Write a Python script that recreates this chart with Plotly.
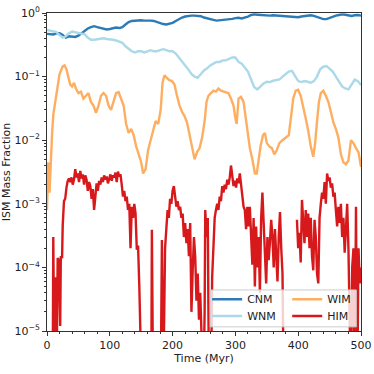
import plotly.graph_objects as go

# time grid (Myr) for the smoother phases
t5 = list(range(0, 501, 5))

cnm = [0.47, 0.47, 0.46, 0.48, 0.48, 0.45, 0.41, 0.43, 0.42, 0.42,
       0.44, 0.48, 0.53, 0.57, 0.60, 0.62, 0.60, 0.58, 0.57, 0.55,
       0.56, 0.57, 0.59, 0.58, 0.60, 0.66, 0.72, 0.75, 0.76, 0.77,
       0.77, 0.76, 0.77, 0.76, 0.75, 0.72, 0.69, 0.67, 0.66, 0.68,
       0.70, 0.75, 0.80, 0.85, 0.88, 0.90, 0.91, 0.91, 0.90, 0.89,
       0.85, 0.82, 0.79, 0.78, 0.76, 0.77, 0.76, 0.78, 0.80, 0.81,
       0.83, 0.84, 0.82, 0.84, 0.88, 0.93, 0.95, 0.94, 0.93, 0.92,
       0.92, 0.91, 0.92, 0.91, 0.90, 0.90, 0.89, 0.87, 0.86, 0.85,
       0.86, 0.88, 0.90, 0.92, 0.92, 0.90, 0.87, 0.83, 0.80, 0.80,
       0.84, 0.88, 0.91, 0.93, 0.95, 0.94, 0.92, 0.90, 0.92, 0.93,
       0.91]

wnm = [0.54, 0.53, 0.51, 0.50, 0.45, 0.41, 0.43, 0.48, 0.51, 0.50,
       0.49, 0.48, 0.46, 0.41, 0.38, 0.38, 0.39, 0.39, 0.40, 0.39,
       0.39, 0.38, 0.37, 0.35, 0.34, 0.30, 0.27, 0.25, 0.24, 0.25,
       0.25, 0.24, 0.25, 0.26, 0.25, 0.25, 0.26, 0.27, 0.26, 0.25,
       0.25, 0.23, 0.20, 0.17, 0.15, 0.13, 0.11, 0.10, 0.096, 0.11,
       0.125, 0.135, 0.15, 0.16, 0.17, 0.17, 0.18, 0.18, 0.19, 0.20,
       0.20, 0.17, 0.16, 0.14, 0.12, 0.09, 0.068, 0.063, 0.07, 0.078,
       0.083, 0.082, 0.086, 0.088, 0.09, 0.10, 0.11, 0.12, 0.123, 0.10,
       0.085, 0.082, 0.085, 0.083, 0.08, 0.085, 0.10, 0.13, 0.143, 0.147,
       0.135, 0.12, 0.10, 0.085, 0.07, 0.065, 0.063, 0.075, 0.09, 0.085,
       0.074]

wim_t = [0, 2, 4, 6, 8, 10, 13, 16, 20, 25, 28, 31, 34, 37, 40, 43, 46, 50,
         54, 58, 62, 66, 70, 74, 78, 82, 86, 90, 94, 98, 102, 106, 110, 114,
         118, 122, 126, 130, 134, 138, 142, 146, 150, 153, 157, 161, 165, 169,
         173, 177, 181, 184, 187, 191, 195, 199, 203, 207, 211, 215, 219, 223,
         227, 231, 235, 239, 243, 247, 251, 254, 257, 261, 265, 269, 273, 277,
         281, 285, 289, 293, 297, 300, 302, 305, 309, 313, 317, 320, 323, 327,
         331, 334, 337, 340, 344, 347, 350, 354, 358, 362, 366, 370, 375, 380,
         385, 389, 392, 396, 400, 404, 408, 412, 416, 420, 424, 427, 430, 433,
         436, 440, 444, 448, 452, 456, 460, 464, 468, 472, 476, 480, 484, 488,
         492, 496, 500]
wim = [8e-4, 4.5e-3, 1.5e-3, 5e-3, 0.012, 0.025, 0.04, 0.07, 0.11, 0.145,
       0.15, 0.13, 0.10, 0.075, 0.07, 0.08, 0.065, 0.055, 0.058, 0.045,
       0.05, 0.055, 0.04, 0.035, 0.027, 0.035, 0.05, 0.055, 0.05, 0.035,
       0.03, 0.04, 0.055, 0.057, 0.045, 0.035, 0.018, 0.013, 0.015, 0.012,
       0.008, 0.006, 0.0045, 0.003, 0.0035, 0.007, 0.01, 0.013, 0.02, 0.018,
       0.03, 0.08, 0.105, 0.095, 0.088, 0.085, 0.075, 0.05, 0.035, 0.028,
       0.024, 0.019, 0.012, 0.007, 0.005, 0.0065, 0.0075, 0.011, 0.02, 0.04,
       0.05, 0.055, 0.06, 0.058, 0.065, 0.06, 0.058, 0.056, 0.055, 0.045,
       0.035, 0.022, 0.018, 0.045, 0.048, 0.04, 0.02, 0.011, 0.0075, 0.005,
       0.003, 0.003, 0.005, 0.008, 0.012, 0.013, 0.009, 0.008, 0.0075, 0.006,
       0.007, 0.009, 0.01, 0.011, 0.012, 0.025, 0.045, 0.06, 0.062, 0.05,
       0.035, 0.022, 0.014, 0.008, 0.0055, 0.009, 0.02, 0.04, 0.055, 0.06,
       0.05, 0.04, 0.028, 0.019, 0.015, 0.011, 0.006, 0.0045, 0.0042, 0.0048,
       0.01, 0.009, 0.0075, 0.0065, 0.0038]

# hot phase: very noisy, frequently drops below the plotted range
him_t = [9, 10, 12, 13, 15, 17, 19, 21, 22, 24, 25, 27, 29, 31, 33, 35, 37,
         39, 41, 43, 45, 47, 49, 51, 53, 55, 57, 59, 61, 63, 65, 67, 69, 71,
         73, 75, 77, 79, 81, 83, 85, 87, 89, 91, 93, 95, 97, 99, 101, 103,
         105, 107, 109, 111, 113, 115, 117, 119, 121, 123, 125, 127, 129, 131,
         133, 135, 137, 139, 141, 143, 145, 147, 149, 151, 153, 160, 166, 167,
         169, 175, 181, 183, 185, 188, 190, 192, 194, 196, 198, 200, 202, 204,
         206, 208, 210, 212, 214, 216, 218, 220, 222, 224, 226, 228, 230, 232,
         234, 236, 238, 240, 242, 244, 246, 249, 251, 252, 254, 256, 258, 261,
         263, 265, 267, 269, 271, 273, 275, 277, 279, 281, 283, 285, 287, 289,
         291, 293, 295, 297, 299, 301, 303, 305, 307, 309, 311, 313, 315, 317,
         319, 321, 323, 325, 327, 329, 331, 333, 335, 337, 339, 341, 343, 345,
         347, 349, 351, 353, 355, 357, 359, 361, 363, 365, 367, 369, 371, 373,
         375, 377, 380, 397, 398, 400, 402, 404, 406, 408, 410, 412, 414, 416,
         418, 420, 422, 424, 426, 428, 430, 432, 434, 436, 438, 440, 442, 444,
         446, 448, 450, 452, 454, 456, 458, 460, 462, 464, 466, 468, 470, 472,
         474, 476, 478, 480, 482, 484, 486, 488, 490, 492, 494, 496, 498, 500]
him = [1e-6, 3e-4, 1e-6, 7e-5, 1e-6, 1.4e-4, 1.3e-4, 1.2e-5, 1.5e-4, 1.4e-4,
       4.5e-4, 1.1e-3, 1.2e-3, 1.8e-3, 2.3e-3, 2.5e-3, 2.2e-3, 2.6e-3, 2.0e-3,
       2.4e-3, 3.5e-3, 2.6e-3, 3.0e-3, 2.2e-3, 3.3e-3, 2.5e-3, 2.9e-3, 2.0e-3,
       2.8e-3, 2.4e-3, 1.6e-3, 2.2e-3, 1.9e-3, 1.2e-3, 1.7e-3, 8e-4, 1.5e-3,
       2.1e-3, 1.6e-3, 2.3e-3, 2.0e-3, 2.6e-3, 2.2e-3, 2.8e-3, 2.4e-3, 2.7e-3,
       2.1e-3, 2.5e-3, 2.9e-3, 2.3e-3, 2.8e-3, 2.6e-3, 3.1e-3, 2.2e-3, 3.2e-3,
       2.7e-3, 2.9e-3, 2.0e-3, 1.3e-3, 1.6e-3, 1.1e-3, 1.3e-3, 8e-4, 1.0e-3,
       2e-4, 9e-4, 6e-4, 1.0e-3, 7e-4, 1.9e-4, 2.2e-4, 5e-5, 1e-6, 1e-6,
       1e-6, 1e-6, 1e-6, 3.9e-4, 1e-6, 1e-6, 1e-6, 2.7e-4, 1e-6, 2e-4,
       4e-4, 8e-4, 6e-4, 1.2e-3, 1.0e-3, 1.6e-3, 1.9e-3, 1.3e-3, 9e-4, 1.1e-3,
       8e-4, 9e-4, 6e-4, 7e-4, 3e-4, 5e-4, 2.4e-4, 4e-4, 1.5e-4, 5e-4,
       2e-5, 9e-5, 3e-4, 1.5e-4, 3e-5, 8e-5, 1.5e-5, 4e-5, 1e-6, 1e-6,
       2e-5, 8e-4, 3e-4, 6e-4, 1e-6, 1e-6, 7e-5, 3e-4, 6e-4, 8e-4,
       1.0e-3, 8e-4, 1.3e-3, 1.1e-3, 1.9e-3, 1.5e-3, 2.0e-3, 1.7e-3, 2.4e-3,
       2.0e-3, 2.6e-3, 4.0e-3, 2.8e-3, 1.9e-3, 2.3e-3, 1.8e-3, 2.5e-3, 2.1e-3,
       3.0e-3, 2.0e-3, 1.4e-3, 9e-4, 8e-4, 4e-4, 9e-4, 4.4e-4, 9e-4, 3e-4,
       1.1e-4, 6e-4, 5e-5, 4.4e-4, 1e-4, 3e-4, 4e-5, 6e-4, 1.5e-3, 5e-4,
       2e-4, 5.6e-5, 3e-4, 1.3e-4, 2.5e-4, 5.6e-4, 3e-4, 1e-4, 4e-4, 1.7e-4,
       6e-5, 3e-4, 7.4e-4, 2e-4, 8e-5, 1e-6, None, None, 5.6e-4, 2e-4,
       3.5e-4, 1.2e-4, 1.15e-3, 4e-4, 2.4e-4, 8e-4, 3e-4, 7e-4, 2e-4, 6e-4,
       1.5e-4, 9e-5, 5.6e-4, 3e-4, 8e-5, 5.6e-5, 6e-4, 1.0e-3, 1.5e-3, 1.2e-3,
       2.2e-3, 1.0e-3, 3.0e-3, 2.3e-3, 2.6e-3, 1.8e-3, 2.1e-3, 1.3e-3, 1.5e-3,
       8e-4, 4.4e-4, 9e-4, 5e-4, 1.0e-3, 3e-4, 6e-4, 1.7e-4, 4e-4, 1.0e-3,
       2e-4, 4e-5, 1e-6, 1e-4, 2e-4, 1e-6, 9e-4, 1e-6, 2e-4, 5.6e-5, 1e-4]

ytick_vals = [1e-5, 1e-4, 1e-3, 1e-2, 1e-1, 1e0]
ytick_text = ["10<sup>−5</sup>", "10<sup>−4</sup>", "10<sup>−3</sup>",
              "10<sup>−2</sup>", "10<sup>−1</sup>", "10<sup>0</sup>"]
yminor = [m * 10.0 ** e for e in range(-5, 0) for m in range(2, 10)]

colors = {'CNM': '#2c7bb6', 'WNM': '#abd9e9', 'WIM': '#fdae61', 'HIM': '#d7191c'}
FONT = 'DejaVu Sans'

fig = go.Figure()
# one small legend per entry so the 2x2 layout matches the original
fig.add_trace(go.Scatter(x=t5, y=cnm, mode='lines', name='CNM', showlegend=True,
                         line=dict(color=colors['CNM'], width=2.4), legend='legend'))
fig.add_trace(go.Scatter(x=t5, y=wnm, mode='lines', name='WNM', showlegend=True,
                         line=dict(color=colors['WNM'], width=2.4), legend='legend2'))
fig.add_trace(go.Scatter(x=wim_t, y=wim, mode='lines', name='WIM', showlegend=True,
                         line=dict(color=colors['WIM'], width=2.4), legend='legend3'))
fig.add_trace(go.Scatter(x=him_t, y=him, mode='lines', name='HIM', showlegend=True,
                         line=dict(color=colors['HIM'], width=2.4), legend='legend4'))

axis_common = dict(showline=True, linecolor='#333', linewidth=1, mirror=True,
                   ticks='outside', ticklen=4, tickcolor='#333', showgrid=False,
                   zeroline=False, automargin=False,
                   tickfont=dict(family=FONT, size=11, color='#222'))

fig.update_xaxes(range=[0, 500], tickvals=[0, 100, 200, 300, 400, 500],
                 minor=dict(ticks='outside', ticklen=2, tickcolor='#333', dtick=20),
                 title=dict(text='Time (Myr)', standoff=3,
                            font=dict(family=FONT, size=11, color='#222')),
                 **axis_common)
fig.update_yaxes(type='log', range=[-5, 0], tickvals=ytick_vals, ticktext=ytick_text,
                 minor=dict(ticks='outside', ticklen=2, tickcolor='#333', tickvals=yminor),
                 title=dict(text='ISM Mass Fraction', standoff=2,
                            font=dict(family=FONT, size=11, color='#222')),
                 **axis_common)

# legend frame behind the legend entries
fig.add_shape(type='rect', xref='paper', yref='paper', x0=0.52, x1=0.985,
              y0=0.013, y1=0.129, fillcolor='rgba(255,255,255,0.8)',
              line=dict(color='#cccccc', width=1), layer='above')

legend_common = dict(bgcolor='rgba(0,0,0,0)', borderwidth=0,
                     font=dict(family=FONT, size=11, color='#222'),
                     xanchor='left', yanchor='middle')
fig.update_layout(
    width=374, height=374,
    margin=dict(l=47, r=13, t=13, b=43),
    paper_bgcolor='white', plot_bgcolor='white',
    showlegend=True,
    legend=dict(x=0.51, y=0.100, **legend_common),
    legend2=dict(x=0.51, y=0.047, **legend_common),
    legend3=dict(x=0.765, y=0.100, **legend_common),
    legend4=dict(x=0.765, y=0.047, **legend_common),
)

# drop the browser's default page margin so the figure sits at the corner
fig.write_html("out.html", config={'displayModeBar': False},
               post_script="document.body.style.margin='0';")
